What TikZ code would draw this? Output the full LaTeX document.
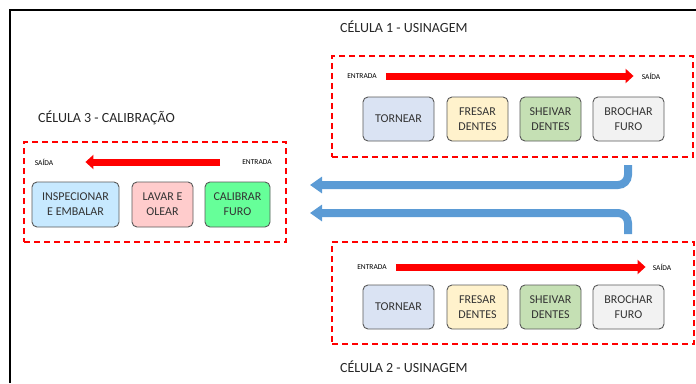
\documentclass[tikz,border=0pt]{standalone}
\usepackage{fontspec}
\setmainfont{Carlito}
\usetikzlibrary{arrows.meta}
\definecolor{cTorn}{HTML}{DAE3F3}
\definecolor{cFres}{HTML}{FFF2CC}
\definecolor{cShei}{HTML}{C5E0B4}
\definecolor{cBroc}{HTML}{F2F2F2}
\definecolor{cInsp}{HTML}{C7E9FF}
\definecolor{cLava}{HTML}{FFCCCC}
\definecolor{cCali}{HTML}{66FF99}
\definecolor{cBlue}{HTML}{5B9BD5}
\definecolor{cRed}{HTML}{FF0000}
\definecolor{cEdge}{HTML}{595959}
\tikzset{
  proc/.style={draw=cEdge, line width=0.9pt, rounded corners=5pt, minimum height=44pt,
    align=center, font=\fontsize{12}{15}\selectfont, text=black!80, inner sep=1pt},
  cellbox/.style={draw=cRed, line width=1.5pt, dash pattern=on 6pt off 4pt},
  small/.style={font=\fontsize{7.5}{9}\selectfont, inner sep=0pt},
  title/.style={font=\fontsize{14}{16}\selectfont, anchor=west, inner sep=0pt, text=black!85},
  redarrow/.style={draw=cRed, line width=7pt, -{Triangle[length=8pt,width=14pt]}},
  bluearrow/.style={draw=cBlue, line width=8pt, rounded corners=10pt, -{Triangle[length=12pt,width=16pt]}}
}
\begin{document}
\begin{tikzpicture}[x=1pt,y=-1pt]
\useasboundingbox (0,0) rectangle (696,383);
\draw[line width=2pt] (10,383) -- (10,10) -- (696,10);

% Cell 1
\node[title] (t1) at (340,27) {CÉLULA 1 - USINAGEM};
\node[cellbox, minimum width=361pt, minimum height=101pt] (c1) at (512.5,106.5) {};
\node[small] (e1) at (362,76) {ENTRADA};
\node[small] (s1) at (651,76) {SAÍDA};
\draw[redarrow, shorten <=9pt, shorten >=8pt] (e1.east) -- (s1.west);
\node[proc, fill=cTorn, minimum width=71pt] (a1) at (398.5,119) {TORNEAR};
\node[proc, fill=cFres, minimum width=61pt] (a2) at (477.5,119) {FRESAR\\DENTES};
\node[proc, fill=cShei, minimum width=61pt] (a3) at (550.5,119) {SHEIVAR\\DENTES};
\node[proc, fill=cBroc, minimum width=71pt] (a4) at (628.5,119) {BROCHAR\\FURO};

% Cell 2
\node[title] (t2) at (340,367) {CÉLULA 2 - USINAGEM};
\node[cellbox, minimum width=362pt, minimum height=102pt] (c2) at (513,293) {};
\node[small] (e2) at (372,267) {ENTRADA};
\node[small] (s2) at (662,267) {SAÍDA};
\draw[redarrow, shorten <=9pt, shorten >=7pt] (e2.east) -- (s2.west);
\node[proc, fill=cTorn, minimum width=71pt] (b1) at (398.5,307) {TORNEAR};
\node[proc, fill=cFres, minimum width=61pt] (b2) at (477.5,307) {FRESAR\\DENTES};
\node[proc, fill=cShei, minimum width=61pt] (b3) at (550.5,307) {SHEIVAR\\DENTES};
\node[proc, fill=cBroc, minimum width=71pt] (b4) at (628.5,307) {BROCHAR\\FURO};

% Cell 3
\node[title] (t3) at (38,118) {CÉLULA 3 - CALIBRAÇÃO};
\node[cellbox, minimum width=262pt, minimum height=100pt] (c3) at (155,192) {};
\node[small] (s3) at (44,162) {SAÍDA};
\node[small] (e3) at (257,162) {ENTRADA};
\draw[redarrow, shorten <=22pt, shorten >=32pt] (e3.west) -- (s3.east);
\node[proc, fill=cInsp, minimum width=87pt, minimum height=45pt] (d1) at (75.5,204.5) {INSPECIONAR\\E EMBALAR};
\node[proc, fill=cLava, minimum width=61pt, minimum height=45pt] (d2) at (162.5,204.5) {LAVAR E\\OLEAR};
\node[proc, fill=cCali, minimum width=65pt, minimum height=45pt] (d3) at (237.5,204.5) {CALIBRAR\\FURO};

% Transfer arrows
\coordinate (f1s) at (628,165);
\coordinate (f1e) at (310,185);
\coordinate (f2s) at (628,234);
\coordinate (f2e) at (310,213);
\draw[bluearrow] (f1s) |- (f1e);
\draw[bluearrow] (f2s) |- (f2e);
\end{tikzpicture}
\end{document}
